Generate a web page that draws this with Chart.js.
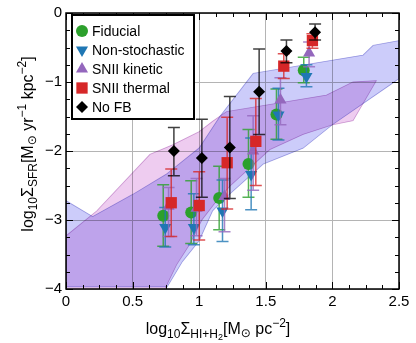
<!DOCTYPE html>
<html>
<head>
<meta charset="utf-8">
<script src="https://cdn.jsdelivr.net/npm/chart.js@4"></script>
<style>
  html, body { margin: 0; padding: 0; background: #fff; }
  #wrap { width: 416px; height: 343px; }
</style>
</head>
<body>
<div id="wrap"><canvas id="myChart"></canvas></div>
<script>
const FONT = '"Liberation Sans", Arial, "DejaVu Sans", sans-serif';

// axis ticks
const xTicks = [0, 0.5, 1, 1.5, 2, 2.5];
const yTicks = [-4, -3, -2, -1, 0];

// simulation points: x, y, lower and upper end of the error bar
const fidX  = [0.73, 0.94, 1.15, 1.37, 1.58, 1.785];
const fidY  = [-2.94, -2.89, -2.68, -2.19, -1.47, -0.83];
const fidLo = [-3.38, -3.34, -3.14, -2.67, -1.83, -1.01];
const fidHi = [-2.49, -2.43, -2.22, -1.69, -1.10, -0.64];

const nsX  = [0.745, 0.96, 1.175, 1.39, 1.595, 1.805];
const nsY  = [-3.11, -3.11, -2.87, -2.34, -1.48, -0.92];
const nsLo = [-3.39, -3.36, -3.31, -2.85, -1.84, -1.07];
const nsHi = [-2.82, -2.62, -2.42, -1.81, -1.09, -0.75];

const kinX  = [0.77, 0.98, 1.19, 1.405, 1.61, 1.825];
const kinY  = [-2.80, -2.83, -2.66, -2.0, -1.26, -0.58];
const kinLo = [-3.24, -3.23, -3.17, -2.57, -1.62, -0.78];
const kinHi = [-2.53, -2.40, -2.40, -1.49, -0.94, -0.42];

const thX  = [0.79, 1.0, 1.21, 1.425, 1.635, 1.85];
const thY  = [-2.75, -2.79, -2.17, -1.86, -0.77, -0.40];
const thLo = [-3.24, -3.29, -2.84, -2.50, -0.95, -0.51];
const thHi = [-2.26, -2.30, -1.51, -1.24, -0.59, -0.30];

const nfX  = [0.81, 1.02, 1.23, 1.45, 1.655, 1.87];
const nfY  = [-2.0, -2.10, -1.95, -1.14, -0.55, -0.28];
const nfLo = [-2.36, -2.67, -2.69, -1.76, -0.72, -0.39];
const nfHi = [-1.66, -1.54, -1.21, -0.52, -0.39, -0.16];

// shaded observational regions, outlines
const blueX = [0, 0.2, 0.5, 0.75, 1.0, 1.155, 1.405, 2.23, 2.305, 2.5, 2.5, 2.45, 2.0, 1.78, 1.48, 1.255, 1.175, 1.1, 1.0, 0.875, 0.76, 0];
const blueY = [-2.72, -2.95, -2.63, -2.34, -1.955, -1.5, -0.876, -0.61, -0.47, -0.40, -0.95, -1.02, -1.62, -1.96, -2.19, -2.58, -2.72, -2.87, -3.3, -3.6, -3.97, -3.97];
const pinkX = [0, 0.23, 0.63, 0.8, 1.0, 1.1, 1.205, 1.955, 2.155, 2.33, 2.155, 2.0, 1.78, 1.53, 1.23, 1.12, 1.02, 0.93, 0.83, 0.73, 0];
const pinkY = [-3.23, -2.87, -2.05, -1.91, -1.72, -1.57, -1.43, -1.19, -1.0, -0.98, -1.56, -1.62, -1.76, -1.98, -2.51, -2.75, -3.0, -3.35, -3.65, -4.05, -4.05];

const series = [
  { label: 'Fiducial', color: '#2ca02c', err: 'rgba(44,160,44,0.8)', style: 'circle', rot: 0, r: 6, x: fidX, y: fidY, lo: fidLo, hi: fidHi },
  { label: 'Non-stochastic', color: '#1f77b4', err: 'rgba(31,119,180,0.8)', style: 'triangle', rot: 180, r: 7, x: nsX, y: nsY, lo: nsLo, hi: nsHi },
  { label: 'SNII kinetic', color: '#9467bd', err: 'rgba(148,103,189,0.8)', style: 'triangle', rot: 0, r: 7, x: kinX, y: kinY, lo: kinLo, hi: kinHi },
  { label: 'SNII thermal', color: '#d62728', err: 'rgba(214,39,40,0.8)', style: 'rect', rot: 0, r: 8, x: thX, y: thY, lo: thLo, hi: thHi },
  { label: 'No FB', color: '#000000', err: 'rgba(0,0,0,0.75)', style: 'rectRot', rot: 0, r: 6, x: nfX, y: nfY, lo: nfLo, hi: nfHi }
];

function pts(xs, ys) {
  return xs.map((x, i) => ({ x: x, y: ys[i] }));
}
function closed(xs, ys) {
  const p = pts(xs, ys);
  p.push({ x: xs[0], y: ys[0] });
  return p;
}

const datasets = [
  { type: 'line', label: 'band A', poly: true, data: closed(blueX, blueY), fill: 'shape',
    backgroundColor: '#ccccfa', borderColor: '#a9a9e4', borderWidth: 0.8, pointRadius: 0, tension: 0, order: 20 },
  { type: 'line', label: 'band B', poly: true, data: closed(pinkX, pinkY), fill: 'shape',
    backgroundColor: '#eeccf0', borderColor: '#d3a6d8', borderWidth: 0.8, pointRadius: 0, tension: 0, order: 19 }
];
series.forEach((s, i) => {
  datasets.push({
    label: s.label,
    data: pts(s.x, s.y),
    errLo: s.lo, errHi: s.hi, errColor: s.err,
    backgroundColor: s.color,
    borderWidth: 0,
    pointStyle: s.style,
    rotation: s.rot,
    pointRadius: s.r,
    order: 10 - i
  });
});

function drawRich(ctx, parts, cx, cy) {
  let w = 0;
  parts.forEach(p => {
    ctx.font = p[1] + 'px ' + FONT;
    p.w = ctx.measureText(p[0]).width;
    w += p.w;
  });
  let x = cx - w / 2;
  ctx.textAlign = 'left';
  ctx.textBaseline = 'alphabetic';
  parts.forEach(p => {
    ctx.font = p[1] + 'px ' + FONT;
    ctx.fillText(p[0], x, cy + (p[2] || 0));
    x += p.w;
  });
}

const decor = {
  id: 'decor',
  beforeDraw(chart) {
    const ctx = chart.ctx;
    ctx.save();
    ctx.fillStyle = '#fff';
    ctx.fillRect(0, 0, chart.width, chart.height);
    ctx.restore();
  },
  beforeDatasetsDraw(chart) {
    chart.ctx.globalCompositeOperation = 'multiply';
  },
  beforeDatasetDraw(chart, args) {
    const ds = chart.data.datasets[args.index];
    if (ds.poly) return;
    const ctx = chart.ctx;
    ctx.globalCompositeOperation = 'source-over';
    const xs = chart.scales.x, ys = chart.scales.y;
    ctx.save();
    ctx.strokeStyle = ds.errColor;
    ctx.lineWidth = 1.5;
    ctx.beginPath();
    ds.data.forEach((p, i) => {
      const px = xs.getPixelForValue(p.x);
      const pl = ys.getPixelForValue(ds.errLo[i]);
      const ph = ys.getPixelForValue(ds.errHi[i]);
      ctx.moveTo(px, pl); ctx.lineTo(px, ph);
      ctx.moveTo(px - 6, pl); ctx.lineTo(px + 6, pl);
      ctx.moveTo(px - 6, ph); ctx.lineTo(px + 6, ph);
    });
    ctx.stroke();
    ctx.restore();
  },
  afterDatasetsDraw(chart) {
    chart.ctx.globalCompositeOperation = 'source-over';
  },
  afterDraw(chart) {
    const ctx = chart.ctx;
    const a = chart.chartArea;
    const xs = chart.scales.x, ys = chart.scales.y;
    ctx.save();
    // inward ticks on all sides
    ctx.strokeStyle = '#000';
    ctx.lineWidth = 1;
    ctx.beginPath();
    for (let k = 0; k <= 20; k++) {
      const v = k * 0.125;
      const px = Math.round(xs.getPixelForValue(v)) + 0.5;
      const len = (k % 4 === 0) ? 7 : 4;
      ctx.moveTo(px, a.bottom); ctx.lineTo(px, a.bottom - len);
      ctx.moveTo(px, a.top); ctx.lineTo(px, a.top + len);
    }
    for (let k = 0; k <= 16; k++) {
      const v = -4 + k * 0.25;
      const py = Math.round(ys.getPixelForValue(v)) + 0.5;
      const len = (k % 4 === 0) ? 7 : 4;
      ctx.moveTo(a.left, py); ctx.lineTo(a.left + len, py);
      ctx.moveTo(a.right, py); ctx.lineTo(a.right - len, py);
    }
    ctx.stroke();
    // frame
    ctx.lineWidth = 1.5;
    ctx.strokeRect(a.left, a.top, a.right - a.left, a.bottom - a.top);

    // legend
    const lx = 72, ly = 15, lw = 122, lh = 104;
    ctx.fillStyle = '#fff';
    ctx.fillRect(lx, ly, lw, lh);
    ctx.lineWidth = 2;
    ctx.strokeStyle = '#000';
    ctx.strokeRect(lx, ly, lw, lh);
    ctx.font = '14px ' + FONT;
    ctx.textBaseline = 'middle';
    ctx.textAlign = 'left';
    series.forEach((s, i) => {
      const y = ly + 16 + i * 19;
      ctx.fillStyle = s.color;
      Chart.helpers.drawPoint(ctx, { pointStyle: s.style, rotation: s.rot, radius: s.r, borderWidth: 0 }, lx + 10, y);
      ctx.fillStyle = '#000';
      ctx.fillText(s.label, lx + 20, y + 1);
    });

    // axis titles
    ctx.fillStyle = '#000';
    drawRich(ctx, [['log', 16], ['10', 12, 4], ['Σ', 16], ['HI+H', 12, 4], ['2', 9, 6], ['[M', 16], ['⊙', 12, 3], [' pc', 16], ['−2', 12, -7], [']', 16]], 218, 334);
    ctx.translate(33, 144);
    ctx.rotate(-Math.PI / 2);
    drawRich(ctx, [['log', 16], ['10', 12, 4], ['Σ', 16], ['SFR', 12, 4], ['[M', 16], ['⊙', 12, 3], [' yr', 16], ['−1', 12, -7], [' kpc', 16], ['−2', 12, -7], [']', 16]], 0, 0);
    ctx.restore();
  }
};

const config = {
  type: 'scatter',
  data: { datasets: datasets },
  options: {
    responsive: true,
    maintainAspectRatio: false,
    animation: false,
    events: [],
    layout: { padding: { top: 11, right: 17, left: 0, bottom: 0 } },
    scales: {
      x: {
        type: 'linear', min: 0, max: 2.5,
        afterBuildTicks: scale => { scale.ticks = xTicks.map(v => ({ value: v })); },
        afterFit: scale => { scale.height = 54; },
        grid: { color: '#b4b4b4', drawTicks: false },
        border: { display: false },
        ticks: { color: '#000', padding: 4, font: { family: FONT, size: 15 }, callback: v => String(v) }
      },
      y: {
        type: 'linear', min: -4, max: 0,
        afterBuildTicks: scale => { scale.ticks = yTicks.map(v => ({ value: v })); },
        afterFit: scale => { scale.width = 66; },
        grid: { color: '#b4b4b4', drawTicks: false },
        border: { display: false },
        ticks: {
          color: '#000', padding: 4, font: { family: FONT, size: 15 },
          callback: v => (v < 0 ? '−' + Math.abs(v) : String(v))
        }
      }
    },
    plugins: {
      legend: { display: false },
      tooltip: { enabled: false }
    }
  },
  plugins: [decor]
};

const myChart = new Chart(document.getElementById('myChart'), config);
</script>
</body>
</html>
